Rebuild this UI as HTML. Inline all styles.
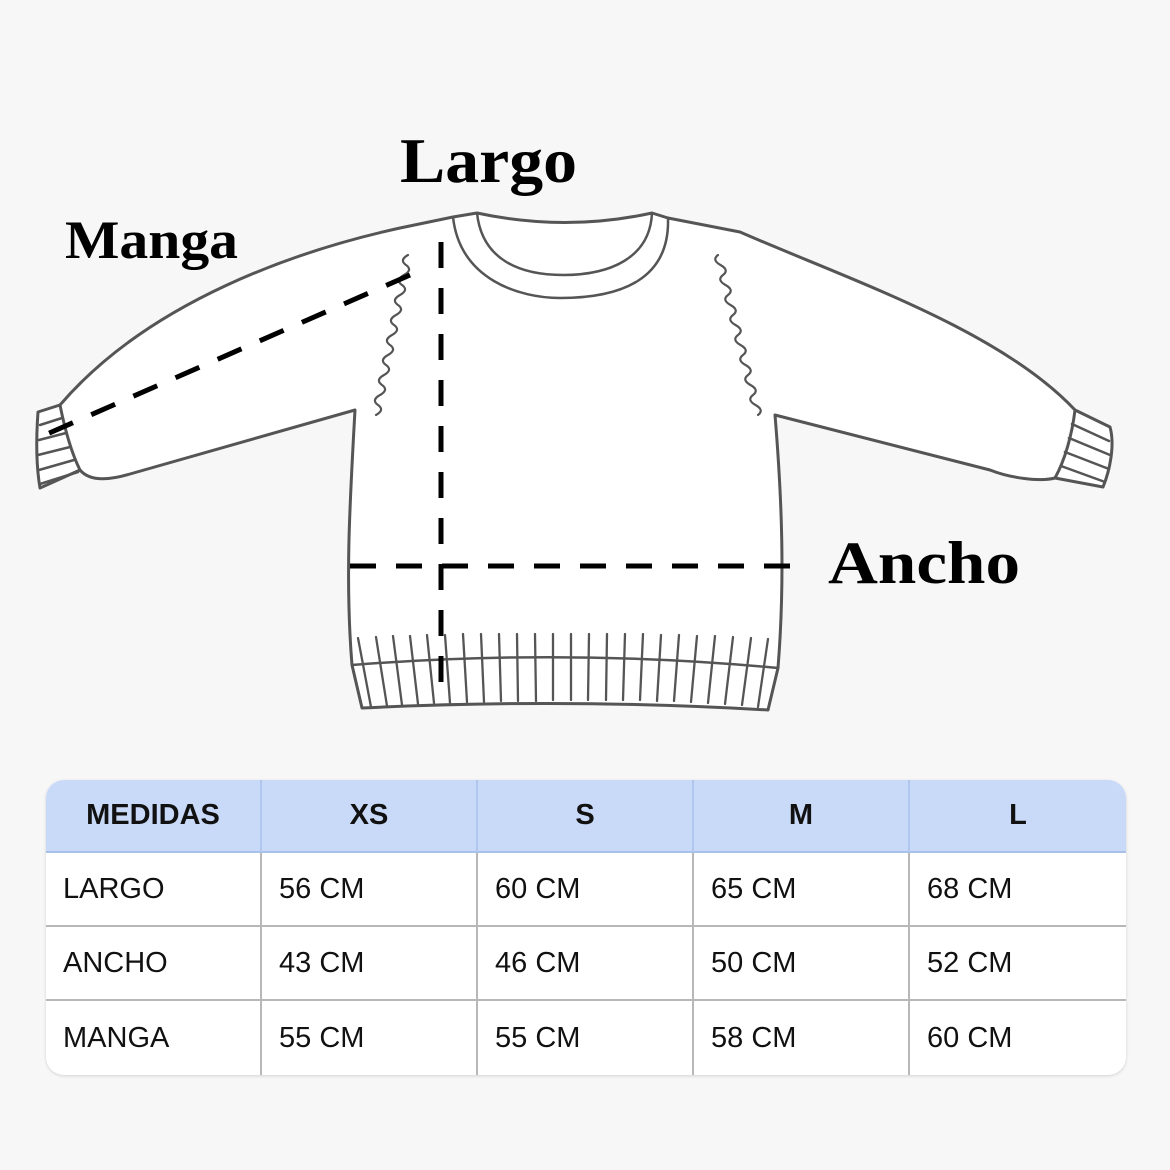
<!DOCTYPE html>
<html><head><meta charset="utf-8"><style>
html,body{margin:0;padding:0;background:#f7f7f7;}
body{width:1170px;height:1170px;position:relative;overflow:hidden;font-family:"Liberation Sans",Arial,sans-serif;}
svg{position:absolute;left:0;top:0;}
table{position:absolute;left:46px;top:780px;width:1080px;border-collapse:separate;border-spacing:0;border-radius:18px;overflow:hidden;background:#fff;box-shadow:0 1px 3px rgba(0,0,0,0.15);}
td{border-right:2px solid #b8b8b8;border-bottom:2px solid #b8b8b8;height:74px;font-size:29px;color:#111;padding:0 0 0 17px;box-sizing:border-box;width:216px;}
tr td:last-child{border-right:none;}
tr:last-child td{border-bottom:none;}
tr.h td{background:#c9daf8;font-weight:bold;text-align:center;padding:0;border-right-color:#b0c6ec;border-bottom-color:#a9c0ea;height:73px;}
</style></head><body>
<svg width="1170" height="1170" viewBox="0 0 1170 1170">
<path fill="#fff" stroke="none" d="M453,217 L477,213 Q565,232 652,213 L668,218 L740,232 C850,280 1000,330 1075,410 L1055,478 C1040,482 1010,478 990,470 L775,415 C782,500 785,580 778,668 L768,710 Q565,698 362,708 L352,665 C345,580 350,500 355,410 L130,474 C110,480 90,482 80,470 L60,405 C150,300 300,250 400,228 Z"/>
<g fill="#fff" stroke="#555" stroke-width="3" stroke-linejoin="round" stroke-linecap="round">
<path d="M38,412 L60,405 C64,425 70,450 80,470 L40,488 C36,465 36,440 38,412 Z"/>
<path d="M1075,410 L1110,427 C1115,445 1110,470 1103,487 L1055,478 C1065,460 1072,435 1075,410 Z"/>
</g>
<g fill="none" stroke="#555" stroke-width="3" stroke-linejoin="round" stroke-linecap="round">
<path d="M60,405 C150,300 300,250 400,228 L453,217 L477,213 Q565,232 652,213 L668,218 L740,232 C850,280 1000,330 1075,410"/>
<path d="M80,470 C90,482 110,480 130,474 L355,410 C350,500 345,580 352,665 L362,708 Q565,698 768,710 L778,668 C785,580 782,500 775,415 L990,470 C1010,478 1040,482 1055,478"/>
</g>
<g fill="none" stroke="#555" stroke-width="2.5" stroke-linecap="round">
<path d="M40,425 L62,418 M39,440 L66,433 M38,455 L70,447 M39,470 L74,460 M40,484 L78,472"/>
<path d="M1072,424 L1109,441 M1069,438 L1110,455 M1065,452 L1109,469 M1061,466 L1105,482"/>
<path d="M453,217 C460,280 520,298 560,298 C620,298 670,280 668,218"/>
<path d="M477,213 C482,260 520,275 563,275 C610,275 650,258 652,213"/>
<path d="M352,665 Q565,648 778,668"/>
</g>
<g fill="none" stroke="#555" stroke-width="2.2" stroke-linecap="round">
<path d="M408,255 q-9,5 -2,10 q7,5 -2,10 q-9,5 -2,10 q7,5 -2,10 q-9,5 -2,10 q7,5 -2,10 q-9,5 -2,10 q7,5 -2,10 q-9,5 -2,10 q7,5 -2,10 q-9,5 -2,10 q7,5 -2,10 q-9,5 -2,10 q7,5 -2,10 q-9,5 -2,10 q7,5 -2,10"/>
<path d="M718,255 q-6.5,5 2.5,10 q9,5 2.5,10 q-6.5,5 2.5,10 q9,5 2.5,10 q-6.5,5 2.5,10 q9,5 2.5,10 q-6.5,5 2.5,10 q9,5 2.5,10 q-6.5,5 2.5,10 q9,5 2.5,10 q-6.5,5 2.5,10 q9,5 2.5,10 q-6.5,5 2.5,10 q9,5 2.5,10 q-6.5,5 2.5,10 q9,5 2.5,10"/>
</g>
<g stroke="#555" stroke-width="2.3" stroke-linecap="round">
<line x1="358" y1="638" x2="371" y2="707"/><line x1="376" y1="637" x2="387" y2="706"/><line x1="393" y1="636" x2="402" y2="705"/><line x1="410" y1="636" x2="418" y2="704"/><line x1="427" y1="635" x2="434" y2="703"/><line x1="445" y1="635" x2="450" y2="703"/><line x1="463" y1="634" x2="467" y2="702"/><line x1="481" y1="634" x2="484" y2="702"/><line x1="499" y1="634" x2="501" y2="701"/><line x1="517" y1="634" x2="518" y2="701"/><line x1="535" y1="634" x2="536" y2="701"/><line x1="553" y1="634" x2="553" y2="700"/><line x1="571" y1="634" x2="571" y2="700"/><line x1="589" y1="634" x2="588" y2="700"/><line x1="607" y1="634" x2="606" y2="700"/><line x1="625" y1="634" x2="623" y2="700"/><line x1="643" y1="634" x2="640" y2="700"/><line x1="661" y1="635" x2="657" y2="701"/><line x1="679" y1="635" x2="674" y2="701"/><line x1="697" y1="636" x2="691" y2="702"/><line x1="715" y1="636" x2="708" y2="703"/><line x1="733" y1="637" x2="725" y2="704"/><line x1="751" y1="638" x2="742" y2="705"/><line x1="768" y1="639" x2="758" y2="707"/>
</g>
<g stroke="#000" stroke-width="5" stroke-dasharray="26,20" fill="none">
<line x1="441" y1="242" x2="441" y2="700"/>
<line x1="350" y1="566" x2="792" y2="566"/>
<line x1="410" y1="275" x2="38" y2="438"/>
</g>
<g font-family="'Liberation Serif',serif" font-weight="bold" fill="#000">
<text x="400" y="182" font-size="64" textLength="177" lengthAdjust="spacingAndGlyphs">Largo</text>
<text x="65" y="258" font-size="54" textLength="173" lengthAdjust="spacingAndGlyphs">Manga</text>
<text x="828" y="583" font-size="60" textLength="192" lengthAdjust="spacingAndGlyphs">Ancho</text>
</g>
</svg>
<table>
<tr class="h"><td>MEDIDAS</td><td>XS</td><td>S</td><td>M</td><td>L</td></tr>
<tr><td>LARGO</td><td>56 CM</td><td>60 CM</td><td>65 CM</td><td>68 CM</td></tr>
<tr><td>ANCHO</td><td>43 CM</td><td>46 CM</td><td>50 CM</td><td>52 CM</td></tr>
<tr><td>MANGA</td><td>55 CM</td><td>55 CM</td><td>58 CM</td><td>60 CM</td></tr>
</table>
</body></html>
